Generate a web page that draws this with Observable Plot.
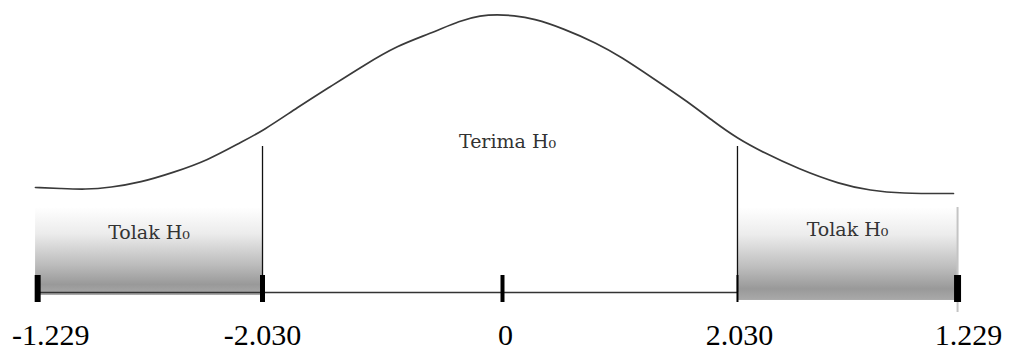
<!DOCTYPE html>
<html>
<head>
<meta charset="utf-8">
<script src="https://cdn.jsdelivr.net/npm/d3@7"></script>
<script src="https://cdn.jsdelivr.net/npm/@observablehq/plot@0.6"></script>
<style>
  html, body { margin: 0; padding: 0; background: #fff; overflow: hidden; }
  #chart svg { display: block; }
</style>
</head>
<body>
<div id="chart"></div>
<script>
// Curve (t units, density units)
const curveT = [-4.009,-3.794,-3.579,-3.365,-3.107,-2.824,-2.532,-2.249,-2.052,-1.760,-1.476,-1.193,-0.901,-0.618,-0.361,-0.189,-0.043,0.094,0.266,0.524,0.815,1.013,1.296,1.588,1.811,2.017,2.240,2.532,2.901,3.159,3.416,3.871];
const curveD = [0.1500,0.1486,0.1471,0.1500,0.1571,0.1714,0.1886,0.2143,0.2314,0.2643,0.2943,0.3243,0.3529,0.3700,0.3886,0.3957,0.3971,0.3957,0.3914,0.3771,0.3557,0.3371,0.3057,0.2729,0.2443,0.2200,0.2000,0.1771,0.1543,0.1457,0.1414,0.1414];

// Axis ticks and their labels
const tickPos = [-3.99, -2.06, 0, 2.017, 3.906];
const tickLabels = ["-1.229", "-2.030", "0", "2.030", "1.229"];

// Rejection regions (t from/to, density top / bottom)
const regionFrom = [-4.008, 2.017];
const regionTo = [-2.06, 3.906];
const regionTop = [0.1214, 0.1214];
const regionBottom = [-0.0043, -0.0114];
const regionNames = ["Tolak H₀", "Tolak H₀"];
const centerName = "Terima H₀";
const criticalHeight = 0.2086;

const curve = curveT.map((t, i) => ({t, d: curveD[i]}));
const regions = regionFrom.map((a, i) => ({
  x1: a, x2: regionTo[i], y1: regionBottom[i], y2: regionTop[i], name: regionNames[i]
}));
const ticks = tickPos.map((t, i) => ({t, label: tickLabels[i], w: [6, 5, 4, 2, 7][i]}));
const labelDx = [13, 0, 3, 2, 11];

const defs = () => {
  const g = d3.create("svg:defs");
  const lg = g.append("linearGradient").attr("id", "shade").attr("x1", 0).attr("y1", 0).attr("x2", 0).attr("y2", 1);
  [[0, "#ffffff"], [0.3, "#ececec"], [0.65, "#bdbdbd"], [0.88, "#999999"], [1, "#a9a9a9"]]
    .forEach(([o, c]) => lg.append("stop").attr("offset", o).attr("stop-color", c));
  return g.node();
};

const chart = Plot.plot({
  width: 1010,
  height: 351,
  margin: 0,
  x: {domain: [-4.309, 4.3605], axis: null},
  y: {domain: [-0.08429, 0.41714], axis: null},
  style: {background: "#fff"},
  marks: [
    defs,
    Plot.rect(regions, {x1: "x1", x2: "x2", y1: "y1", y2: "y2", fill: "url(#shade)"}),
    Plot.ruleX([regionTo[1]], {y1: -0.0286, y2: regionTop[1], stroke: "#c4c4c4", strokeWidth: 2}),
    Plot.ruleY([0], {x1: tickPos[0], x2: tickPos[3], stroke: "#333", strokeWidth: 1.6}),
    Plot.ruleX([tickPos[1], tickPos[3]], {y1: 0, y2: criticalHeight, stroke: "#111", strokeWidth: 1.3}),
    Plot.line(curve, {x: "t", y: "d", curve: "basis", stroke: "#3a3a3a", strokeWidth: 1.7}),
    Plot.ruleX(ticks, {x: "t", y1: -0.0143, y2: 0.0243, stroke: "#000", strokeWidth: "w"}),
    ...ticks.map((d, i) => Plot.text([d], {
      x: "t", y: -0.0743, text: "label", dx: labelDx[i],
      fontSize: 30, fontFamily: "Liberation Serif, Times New Roman, serif",
      fill: "#000", textAnchor: "middle", lineAnchor: "bottom"
    })),
    Plot.text(regions, {
      x: d => (d.x1 + d.x2) / 2, y: (d, i) => [0.0771, 0.0814][i], text: "name",
      fontSize: 19, fontFamily: "DejaVu Serif, serif", fill: "#333",
      textAnchor: "middle", lineAnchor: "bottom"
    }),
    Plot.text([centerName], {
      x: 0.043, y: 0.2071, text: d => d,
      fontSize: 19, fontFamily: "DejaVu Serif, serif", fill: "#333",
      textAnchor: "middle", lineAnchor: "bottom"
    })
  ]
});
document.getElementById("chart").appendChild(chart);
</script>
</body>
</html>
